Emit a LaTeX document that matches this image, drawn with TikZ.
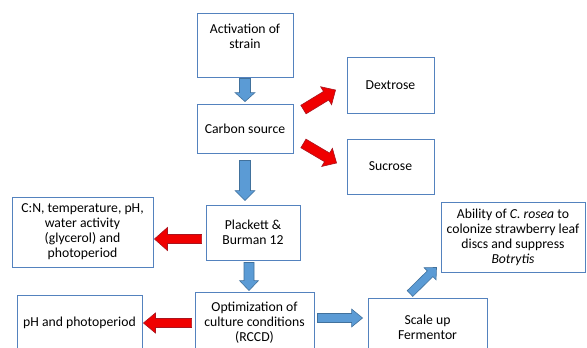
\documentclass[tikz,border=0pt]{standalone}
\usepackage{fontspec}
\setmainfont{Carlito}
\usetikzlibrary{calc}
\definecolor{boxline}{RGB}{84,130,190}
\definecolor{bluefill}{RGB}{91,155,213}
\definecolor{blueline}{RGB}{65,113,156}
\definecolor{redfill}{RGB}{240,0,0}
\definecolor{redline}{RGB}{170,20,30}
\tikzset{
  box/.style={draw=boxline, line width=0.9pt, fill=white, align=center, inner sep=2pt,
    font=\fontsize{13.7}{15}\selectfont},
  bluearr/.style={fill=bluefill, draw=blueline, line width=0.6pt, line join=miter},
  redarr/.style={fill=redfill, draw=redline, line width=0.6pt, line join=miter},
}
\newcommand\blockarr[6]{%
  \path let \p1=(#1), \p2=(#2), \n1={atan2(\y2-\y1,\x2-\x1)}, \n2={veclen(\x2-\x1,\y2-\y1)} in
    \pgfextra{\pgfmathsetmacro\baang{\n1}\xdef\baang{\baang}\pgfmathsetmacro\balen{\n2}\xdef\balen{\balen}};
  \draw[#3, shift={(#1)}, rotate=\baang]
    (0pt,-#4pt) -- (\balen pt-#6pt,-#4pt) -- (\balen pt-#6pt,-#5pt) -- (\balen pt,0pt)
    -- (\balen pt-#6pt,#5pt) -- (\balen pt-#6pt,#4pt) -- (0pt,#4pt) -- cycle;
}
\begin{document}
\begin{tikzpicture}[x=1pt,y=-1pt]
\useasboundingbox (0,0) rectangle (587,348);
\clip (0,0) rectangle (587,348);
\fill[white] (0,0) rectangle (587,348);
% nodes
\node[box, minimum width=96pt, minimum height=64pt] (act) at (245,45) {Activation of\\strain\\[3pt]};
\node[box, minimum width=96pt, minimum height=49pt] (carbon) at (245,128.5) {Carbon source};
\node[box, minimum width=87pt, minimum height=56pt] (dex) at (390.5,85) {Dextrose};
\node[box, minimum width=87pt, minimum height=55pt] (suc) at (390.5,166.5) {Sucrose};
\node[box, minimum width=141pt, minimum height=70pt] (cn) at (82.5,232) {C:N, temperature, pH,\\water activity\\(glycerol) and\\photoperiod};
\node[box, minimum width=94pt, minimum height=55pt] (plack) at (253,232.5) {Plackett \&\\Burman 12};
\node[box, minimum width=144pt, minimum height=70pt] (abil) at (513,237) {Ability of \emph{C. rosea} to\\colonize strawberry leaf\\discs and suppress\\\emph{Botrytis}};
\node[box, minimum width=125pt, minimum height=56pt] (ph) at (79.5,323) {pH and photoperiod};
\node[box, minimum width=119pt, minimum height=62pt] (opt) at (254.5,323) {Optimization of\\culture conditions\\(RCCD)};
\node[box, minimum width=119pt, minimum height=58pt] (scale) at (427.5,327) {Scale up\\Fermentor};
% connector end points
\coordinate (a1s) at ($(act.south)+(0,1)$);
\coordinate (a1e) at ($(carbon.north)+(0,-2)$);
\coordinate (a2s) at ($(carbon.south)+(0,7)$);
\coordinate (a2e) at ($(carbon.south |- plack.north)+(0,-4)$);
\coordinate (a3s) at ($(plack.south)+(-4,2)$);
\coordinate (a3e) at ($(plack.south |- opt.north)+(-4,-1)$);
\coordinate (r1s) at ($(carbon.north east)+(10,6)$);
\coordinate (r1e) at ($(dex.west)+(-11,5)$);
\coordinate (r2s) at ($(carbon.south east)+(10,-10)$);
\coordinate (r2e) at ($(suc.west)+(-10,-3.5)$);
\coordinate (r3s) at ($(plack.west)+(-4,6.5)$);
\coordinate (r3e) at ($(cn.east)+(1,7)$);
\coordinate (r4s) at ($(opt.west)+(-3,0)$);
\coordinate (r4e) at ($(ph.east)+(1,0)$);
\coordinate (b4s) at ($(opt.east)+(3,-5)$);
\coordinate (b4e) at ($(scale.west)+(-5,-9)$);
\coordinate (b5s) at ($(scale.north)+(-17.5,-4)$);
\coordinate (b5e) at ($(abil.south west)+(-4,-5)$);
% connectors
\blockarr{a1s}{a1e}{bluearr}{5.5}{10}{9}
\blockarr{a2s}{a2e}{bluearr}{5.5}{10}{10}
\blockarr{a3s}{a3e}{bluearr}{5}{9.5}{10}
\blockarr{r1s}{r1e}{redarr}{5}{10.5}{11}
\blockarr{r2s}{r2e}{redarr}{5}{10.5}{11}
\blockarr{r3s}{r3e}{redarr}{4.5}{11.5}{13}
\blockarr{r4s}{r4e}{redarr}{4.5}{10}{12}
\blockarr{b4s}{b4e}{bluearr}{4.5}{9}{11}
\blockarr{b5s}{b5e}{bluearr}{4}{8.5}{9}
\end{tikzpicture}
\end{document}
